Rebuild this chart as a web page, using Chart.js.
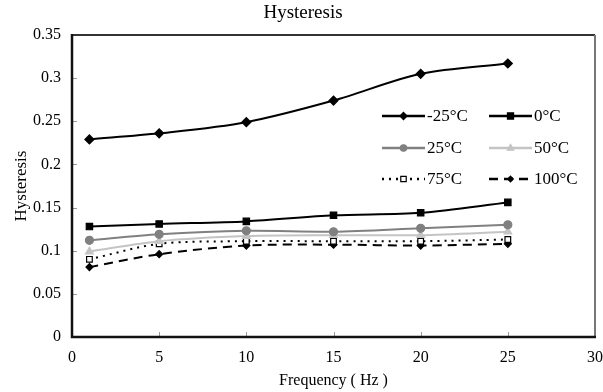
<!DOCTYPE html>
<html><head><meta charset="utf-8">
<script src="https://cdn.jsdelivr.net/npm/chart.js@4/dist/chart.umd.min.js"></script>
<style>html,body{margin:0;padding:0;background:#fff}#wrap{width:603px;height:392px}</style>
</head><body><div id="wrap"><canvas id="c" width="603" height="392"></canvas></div>
<script>
const chartTitle = "Hysteresis";
const xTitle = "Frequency ( Hz )";
const yTitle = "Hysteresis";
const frequencies = [1, 5, 10, 15, 20, 25];
const seriesLabels = ["-25°C", "0°C", "25°C", "50°C", "75°C", "100°C"];
const sM25 = [0.229, 0.236, 0.249, 0.274, 0.305, 0.317];
const s0   = [0.128, 0.131, 0.134, 0.141, 0.144, 0.156];
const s25  = [0.112, 0.119, 0.123, 0.122, 0.126, 0.130];
const s50  = [0.099, 0.111, 0.117, 0.118, 0.118, 0.122];
const s75  = [0.090, 0.108, 0.111, 0.111, 0.111, 0.113];
const s100 = [0.081, 0.096, 0.106, 0.107, 0.106, 0.108];
const xTicks = [0, 5, 10, 15, 20, 25, 30];
const yTicks = [0, 0.05, 0.1, 0.15, 0.2, 0.25, 0.3, 0.35];

const FONT = "'Liberation Serif', 'Times New Roman', serif";
const styles = [
  {color:'#000', width:2, dash:[], marker:'rectRot', r:4.5, fill:'#000', border:'#000'},
  {color:'#000', width:2, dash:[], marker:'rect', r:4.5, fill:'#000', border:'#000'},
  {color:'#808080', width:2, dash:[], marker:'circle', r:4, fill:'#808080', border:'#808080'},
  {color:'#c4c4c4', width:2, dash:[], marker:'triangle', r:4.5, fill:'#c4c4c4', border:'#c4c4c4'},
  {color:'#000', width:2, dash:[2,5], marker:'rect', r:4, fill:'#fff', border:'#000'},
  {color:'#000', width:2, dash:[9,6], marker:'rectRot', r:3.5, fill:'#000', border:'#000'}
];
const values = [sM25, s0, s25, s50, s75, s100];

const datasets = values.map((v, i) => ({
  label: seriesLabels[i],
  data: frequencies.map((f, j) => ({x: f, y: v[j]})),
  borderColor: styles[i].color,
  borderWidth: styles[i].width,
  borderDash: styles[i].dash,
  pointStyle: styles[i].marker,
  pointRadius: styles[i].r,
  pointBackgroundColor: styles[i].fill,
  pointBorderColor: styles[i].border,
  pointBorderWidth: 1.2,
  tension: 0.3,
  fill: false
}));

function drawMarker(ctx, style, x, y, r) {
  ctx.save();
  ctx.setLineDash([]);
  ctx.fillStyle = style.fill; ctx.strokeStyle = style.border; ctx.lineWidth = 1.2;
  ctx.beginPath();
  if (style.marker === 'rect') { ctx.rect(x - r*0.85, y - r*0.85, r*1.7, r*1.7); }
  else if (style.marker === 'rectRot') { ctx.moveTo(x, y - r); ctx.lineTo(x + r, y); ctx.lineTo(x, y + r); ctx.lineTo(x - r, y); ctx.closePath(); }
  else if (style.marker === 'circle') { ctx.arc(x, y, r, 0, Math.PI*2); }
  else if (style.marker === 'triangle') { ctx.moveTo(x, y - r); ctx.lineTo(x + r*0.9, y + r*0.6); ctx.lineTo(x - r*0.9, y + r*0.6); ctx.closePath(); }
  ctx.fill(); ctx.stroke();
  ctx.restore();
}

const decor = {
  id: 'decor',
  afterDraw(chart) {
    const ctx = chart.ctx, a = chart.chartArea;
    const xs = chart.scales.x, ys = chart.scales.y;
    ctx.save();
    ctx.fillStyle = '#000';
    ctx.font = "19px " + FONT;
    ctx.textAlign = 'center'; ctx.textBaseline = 'middle';
    ctx.fillText(chartTitle, 303, 13);
    ctx.strokeStyle = '#999'; ctx.lineWidth = 1;
    yTicks.forEach(t => { const py = Math.round(ys.getPixelForValue(t)) + 0.5; ctx.beginPath(); ctx.moveTo(a.left, py); ctx.lineTo(a.left + 5, py); ctx.stroke(); });
    xTicks.forEach(t => { const px = Math.round(xs.getPixelForValue(t)) + 0.5; ctx.beginPath(); ctx.moveTo(px, a.bottom); ctx.lineTo(px, a.bottom - 5); ctx.stroke(); });
    ctx.strokeStyle = '#333'; ctx.lineWidth = 2;
    ctx.beginPath(); ctx.moveTo(a.left, a.top); ctx.lineTo(a.right, a.top); ctx.stroke();
    ctx.strokeStyle = '#777';
    ctx.beginPath(); ctx.moveTo(a.right, a.top); ctx.lineTo(a.right, a.bottom); ctx.stroke();
    ctx.strokeStyle = '#111'; ctx.lineWidth = 2.5;
    ctx.beginPath(); ctx.moveTo(a.left, a.top - 1); ctx.lineTo(a.left, a.bottom); ctx.lineTo(a.right + 1, a.bottom); ctx.stroke();
    const cols = [{x1: 382, x2: 425}, {x1: 489, x2: 532}];
    const rows = [116, 148, 179];
    ctx.font = "17px " + FONT;
    ctx.textAlign = 'left'; ctx.textBaseline = 'middle';
    seriesLabels.forEach((lab, i) => {
      const c = cols[i % 2], y = rows[Math.floor(i / 2)], s = styles[i];
      ctx.save();
      ctx.strokeStyle = s.color; ctx.lineWidth = s.width + 0.5;
      ctx.setLineDash(s.dash);
      ctx.beginPath(); ctx.moveTo(c.x1, y); ctx.lineTo(c.x2, y); ctx.stroke();
      ctx.restore();
      drawMarker(ctx, s, (c.x1 + c.x2) / 2, y, s.r * 0.8);
      ctx.fillStyle = '#000';
      ctx.fillText(lab, c.x2 + 2, y + 1);
    });
    ctx.restore();
  }
};

new Chart(document.getElementById('c'), {
  type: 'line',
  data: { datasets },
  options: {
    responsive: false,
    animation: false,
    layout: { padding: { top: 35, right: 8, left: 0, bottom: 0 } },
    plugins: { legend: { display: false }, title: { display: false }, tooltip: { enabled: false } },
    scales: {
      x: {
        type: 'linear', min: 0, max: 30,
        afterFit(s) { s.height = 55; s.paddingRight = 0; s.paddingLeft = 0; },
        afterBuildTicks(s) { s.ticks = xTicks.map(v => ({value: v})); },
        grid: { display: false, drawTicks: false },
        border: { display: false },
        ticks: { padding: 11, color: '#000', font: { family: FONT, size: 16 } },
        title: { display: true, text: xTitle, color: '#000', font: { family: FONT, size: 16 }, padding: { top: 0, bottom: 2 } }
      },
      y: {
        type: 'linear', min: 0, max: 0.35,
        afterFit(s) { s.width = 72; s.paddingTop = 0; s.paddingBottom = 0; },
        afterBuildTicks(s) { s.ticks = yTicks.map(v => ({value: v})); },
        grid: { display: false, drawTicks: false },
        border: { display: false },
        ticks: { padding: 11, color: '#000', font: { family: FONT, size: 16 }, callback: v => String(Math.round(v * 100) / 100) },
        title: { display: true, text: yTitle, color: '#000', font: { family: FONT, size: 17 }, padding: { top: 11, bottom: 0 } }
      }
    }
  },
  plugins: [decor]
});
</script>
</body></html>
